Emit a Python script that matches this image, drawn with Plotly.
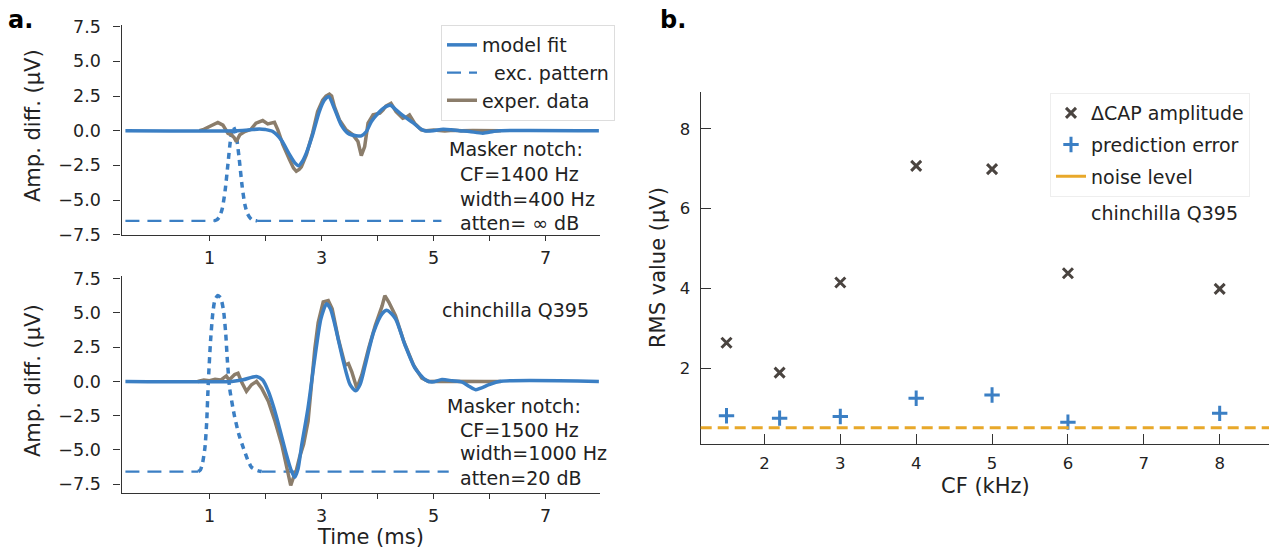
import plotly.graph_objects as go

W, H = 1273, 551

# ---------------- data ----------------
# panel a, top: masker notch CF=1400 Hz
top_fit_t = [-0.5, 1.5, 1.7, 1.89, 2.0, 2.13, 2.28, 2.43, 2.52, 2.59, 2.66, 2.73, 2.84, 2.96, 3.05, 3.13,
             3.23, 3.35, 3.47, 3.62, 3.71, 3.8, 3.89, 4.01, 4.13, 4.23, 4.33, 4.48, 4.63, 4.75, 4.84, 4.99,
             5.17, 5.32, 5.46, 5.64, 5.88, 6.06, 6.18, 7.95]
top_fit_v = [0, 0, 0.05, 0.13, 0.08, -0.06, -0.66, -1.73, -2.3, -2.52, -2.2, -1.6, -0.3, 1.38, 2.2, 2.45,
             1.6, 0.42, -0.18, -0.37, -0.37, -0.06, 0.66, 1.26, 1.69, 1.83, 1.5, 1.01, 0.59, 0.18, 0, 0,
             0.1, 0.06, 0, -0.06, -0.18, -0.06, 0, 0]

top_exp_t = [0.82, 0.9, 1.0, 1.08, 1.15, 1.24, 1.33, 1.39, 1.44, 1.48, 1.54, 1.63, 1.74, 1.83, 1.95, 2.04,
             2.1, 2.16, 2.22, 2.31, 2.43, 2.5, 2.55, 2.6, 2.64, 2.73, 2.84, 2.93, 3.02, 3.08, 3.14, 3.18,
             3.23, 3.32, 3.44, 3.56, 3.65, 3.71, 3.77, 3.83, 3.92, 4.04, 4.1, 4.15, 4.24, 4.33, 4.45, 4.52,
             4.57, 4.66, 4.78, 4.87, 5.0, 5.2, 5.35, 5.5, 5.7, 5.9, 6.1, 6.2]
top_exp_v = [0, 0.1, 0.3, 0.45, 0.6, 0.4, -0.2, -0.3, -0.5, -0.78, -0.3, -0.06, 0.1, 0.54, 0.73, 0.49,
             0.55, 0.6, 0.06, -1.0, -2.1, -2.7, -2.93, -2.8, -2.6, -1.73, -0.18, 1.38, 2.2, 2.5, 2.64, 2.5,
             1.73, 0.78, 0.06, -0.3, -0.78, -1.8, -1.14, 0.54, 1.14, 1.26, 1.5, 1.78, 1.97, 1.38, 0.9, 1.0,
             1.14, 0.54, 0.06, 0, 0.05, -0.03, 0.04, 0, 0.02, 0, 0, 0]

top_exc_t = [-0.5, 1.08, 1.13, 1.18, 1.23, 1.28, 1.33, 1.38, 1.43, 1.48, 1.53, 1.58, 1.63, 1.68, 1.75, 1.85, 5.14]
top_exc_v = [-6.5, -6.5, -6.43, -6.2, -5.59, -4.3, -2.39, -0.53, 0.27, -0.4, -2.0, -3.9, -5.3, -6.0, -6.4, -6.5, -6.5]
top_exc_base = -6.5

# panel a, bottom: masker notch CF=1500 Hz
bot_fit_t = [-0.5, 1.4, 1.6, 1.84, 1.95, 2.05, 2.14, 2.23, 2.37, 2.45, 2.52, 2.58, 2.64, 2.76, 2.88, 2.99,
             3.09, 3.16, 3.24, 3.39, 3.51, 3.61, 3.69, 3.78, 3.93, 4.08, 4.17, 4.32, 4.49, 4.67, 4.85, 4.97,
             5.15, 5.33, 5.51, 5.63, 5.75, 5.99, 6.17, 7.95]
bot_fit_v = [0, 0, 0.12, 0.36, 0.1, -0.72, -1.8, -3.1, -5.3, -6.4, -7.0, -6.4, -4.8, -1.9, 1.7, 4.6,
             5.67, 5.3, 4.1, 1.45, -0.24, -0.68, -0.2, 1.2, 3.6, 4.94, 5.19, 4.58, 2.65, 0.96, 0.12, -0.05,
             0.14, 0.05, -0.05, -0.35, -0.6, -0.24, 0, 0]

bot_exp_t = [0.79, 0.9, 1.0, 1.1, 1.2, 1.3, 1.35, 1.45, 1.51, 1.58, 1.66, 1.75, 1.84, 1.93, 2.05, 2.17,
             2.29, 2.4, 2.45, 2.5, 2.55, 2.61, 2.68, 2.76, 2.88, 2.94, 3.03, 3.12, 3.19, 3.3, 3.42, 3.48,
             3.54, 3.63, 3.72, 3.84, 3.96, 4.08, 4.13, 4.2, 4.32, 4.47, 4.64, 4.79, 4.91, 5.1, 5.3, 5.5,
             5.7, 5.9, 6.2]
bot_exp_v = [0, 0.1, 0.05, 0.15, 0.1, 0.4, 0.1, 0.5, 0.6, -0.1, -0.72, -0.24, 0, -0.5, -1.45, -2.9,
             -4.6, -6.75, -7.6, -7.0, -6.5, -5.5, -4.6, -2.9, 2.4, 4.3, 5.8, 5.9, 5.3, 3.1, 1.2, 1.3,
             0.7, -0.5, 0.5, 2.4, 4.1, 5.5, 6.27, 5.8, 4.8, 2.9, 1.2, 0.24, 0, 0.02, 0, 0.01,
             0, 0, 0]

bot_exc_t = [-0.5, 0.8, 0.84, 0.88, 0.92, 0.95, 0.98, 1.02, 1.06, 1.1, 1.15, 1.2, 1.25, 1.29, 1.32, 1.36,
             1.44, 1.52, 1.6, 1.68, 1.75, 1.85, 1.93, 5.27]
bot_exc_v = [-6.58, -6.58, -6.45, -5.9, -4.8, -3.0, 0.0, 3.0, 5.0, 6.0, 6.27, 6.1, 5.2, 3.5, 1.5, -0.5,
             -2.4, -3.8, -4.8, -5.7, -6.27, -6.5, -6.58, -6.58]
bot_exc_base = -6.58

# panel b
cf_khz = [1.5, 2.2, 3, 4, 5, 6, 8]
cap_amp = [2.64, 1.89, 4.15, 7.07, 6.99, 4.38, 3.99]
pred_err = [0.81, 0.75, 0.79, 1.25, 1.33, 0.65, 0.87]
noise_level = 0.51

# ---------------- styles ----------------
BLUE = "#3b7fc4"
BROWN = "#8b7d6b"
DARK = "#4a4440"
ORANGE = "#e8a82a"
TXT = "#222222"
FONT = "DejaVu Sans"
AX = "#333333"


def px(x):
    return x / W


def py(y):
    return 1 - y / H


def split_exc(t, v, base):
    dash_x, dash_y, dot_x, dot_y = [], [], [], []
    n = len(t)
    up = [vv > base + 0.01 for vv in v]
    for i in range(n):
        near = up[i] or (i > 0 and up[i - 1]) or (i < n - 1 and up[i + 1])
        if near:
            dot_x.append(t[i]); dot_y.append(v[i])
        if not up[i]:
            dash_x.append(t[i]); dash_y.append(v[i])
        elif dash_x and dash_x[-1] is not None:
            dash_x.append(None); dash_y.append(None)
    return dash_x, dash_y, dot_x, dot_y


fig = go.Figure()

for (xa, ya, et, ev, eb, pt, pv, ft, fv, show) in [
    ("x", "y", top_exc_t, top_exc_v, top_exc_base, top_exp_t, top_exp_v, top_fit_t, top_fit_v, True),
    ("x2", "y2", bot_exc_t, bot_exc_v, bot_exc_base, bot_exp_t, bot_exp_v, bot_fit_t, bot_fit_v, False),
]:
    dx, dy, ox, oy = split_exc(et, ev, eb)
    fig.add_trace(go.Scatter(x=dx, y=dy, xaxis=xa, yaxis=ya, mode="lines", name="\u00a0\u00a0exc. pattern",
                             line=dict(color=BLUE, width=2.2, dash="14px,8px"), showlegend=show,
                             legendrank=2, legend="legend", connectgaps=False))
    fig.add_trace(go.Scatter(x=ox, y=oy, xaxis=xa, yaxis=ya, mode="lines", showlegend=False,
                             line=dict(color=BLUE, width=3.5, dash="6px,5px", shape="spline", smoothing=0.6)))
    fig.add_trace(go.Scatter(x=pt, y=pv, xaxis=xa, yaxis=ya, mode="lines", name="exper. data",
                             line=dict(color=BROWN, width=3.5), showlegend=show, legendrank=3, legend="legend"))
    fig.add_trace(go.Scatter(x=ft, y=fv, xaxis=xa, yaxis=ya, mode="lines", name="model fit",
                             line=dict(color=BLUE, width=3.5, shape="spline", smoothing=0.7),
                             showlegend=show, legendrank=1, legend="legend"))

# panel b
fig.add_shape(type="line", xref="x3 domain", yref="y3", x0=0, x1=1, y0=noise_level, y1=noise_level,
              line=dict(color=ORANGE, width=3, dash="11px,6px"), layer="above")
fig.add_trace(go.Scatter(x=cf_khz, y=cap_amp, xaxis="x3", yaxis="y3", mode="markers", name="ΔCAP amplitude",
                         marker=dict(symbol="x-thin", size=10, line=dict(color=DARK, width=3), color=DARK),
                         legend="legend2", legendgroup="a", legendrank=1))
fig.add_trace(go.Scatter(x=cf_khz, y=pred_err, xaxis="x3", yaxis="y3", mode="markers", name="prediction error",
                         marker=dict(symbol="cross-thin", size=11, line=dict(color=BLUE, width=3), color=BLUE),
                         legend="legend2", legendgroup="b", legendrank=2))
fig.add_trace(go.Scatter(x=[None], y=[None], xaxis="x3", yaxis="y3", mode="lines", name="noise level",
                         line=dict(color=ORANGE, width=3), legend="legend2", legendgroup="c", legendrank=3))

tickfont = dict(family=FONT, size=17.5, color=TXT)
tickfont_b = dict(family=FONT, size=16.5, color=TXT)
common = dict(showgrid=False, zeroline=False, automargin=False, showline=True, linecolor=AX,
              linewidth=1.3, tickwidth=1.3, tickcolor=AX)
left_x = dict(range=[-0.57, 7.97], tickvals=[1, 2, 3, 4, 5, 6, 7],
              ticktext=["1", "", "3", "", "5", "", "7"], ticks="outside", ticklen=5,
              tickfont=tickfont, ticklabelstandoff=2, **common)
left_y_vals = [-7.5, -5.0, -2.5, 0.0, 2.5, 5.0, 7.5]
left_y_text = ["\u22127.5", "\u22125.0", "\u22122.5", "0.0", "2.5", "5.0", "7.5"]
left_y = dict(tickvals=left_y_vals, ticktext=left_y_text, ticks="outside", ticklen=7,
              tickfont=tickfont, ticklabelstandoff=9, **common)

fig.update_layout(
    width=W, height=H, margin=dict(l=0, r=0, t=0, b=0, autoexpand=False),
    paper_bgcolor="white", plot_bgcolor="white",
    font=dict(family=FONT, color=TXT),
    xaxis=dict(domain=[px(121.5), px(600)], anchor="y", **left_x),
    yaxis=dict(domain=[py(235), py(25)], anchor="x", range=[-7.52, 7.62], **left_y),
    xaxis2=dict(domain=[px(121.5), px(600)], anchor="y2", **left_x),
    yaxis2=dict(domain=[py(493.3), py(276)], anchor="x2", range=[-8.17, 7.7], **left_y),
    xaxis3=dict(domain=[px(700.7), px(1269)], anchor="y3", range=[1.16, 8.65],
                tickvals=[2, 3, 4, 5, 6, 7, 8], ticks="inside", ticklen=10,
                tickfont=tickfont_b, ticklabelstandoff=4, **common),
    yaxis3=dict(domain=[py(444.3), py(91.7)], anchor="x3", range=[0.095, 8.93],
                tickvals=[2, 4, 6, 8], ticks="inside", ticklen=10,
                tickfont=tickfont_b, ticklabelstandoff=6, **common),
    legend=dict(x=px(441), y=py(25), xanchor="left", yanchor="top", bgcolor="rgba(255,255,255,0.85)",
                bordercolor="#dddddd", borderwidth=1, font=dict(family=FONT, size=19, color=TXT),
                itemwidth=30, traceorder="normal"),
    legend2=dict(x=px(1050), y=py(93), xanchor="left", yanchor="top", bgcolor="rgba(255,255,255,0.85)",
                 bordercolor="#eeeeee", borderwidth=1, font=dict(family=FONT, size=19, color=TXT),
                 itemwidth=30, tracegroupgap=4),
    showlegend=True,
)

ann = []


def add_text(text, x, y, size=19, xanchor="left", angle=0, bold=False):
    ann.append(dict(text=("<b>%s</b>" % text) if bold else text, x=px(x), y=py(y), xref="paper",
                    yref="paper", xanchor=xanchor, yanchor="middle", showarrow=False, textangle=angle,
                    font=dict(family=FONT, size=size, color=TXT if not bold else "#000000")))


add_text("a.", 20, 20, size=24, xanchor="center", bold=True)
add_text("b.", 673, 20, size=24, xanchor="center", bold=True)
add_text("Amp. diff. (μV)", 33, 126, size=21, xanchor="center", angle=-90)
add_text("Amp. diff. (μV)", 33, 381, size=21, xanchor="center", angle=-90)
add_text("Time (ms)", 370, 537, size=21, xanchor="center")
add_text("RMS value (μV)", 658, 268, size=21, xanchor="center", angle=-90)
add_text("CF (kHz)", 985, 486, size=21, xanchor="center")

add_text("Masker notch:", 446.7, 149.5)
add_text("CF=1400 Hz", 457.7, 174)
add_text("width=400 Hz", 457.7, 198.5)
add_text("atten= ∞ dB", 457.7, 223)

add_text("chinchilla Q395", 440, 310)
add_text("Masker notch:", 445, 405.7)
add_text("CF=1500 Hz", 457.7, 430)
add_text("width=1000 Hz", 457.7, 453.3)
add_text("atten=20 dB", 457.7, 478.3)

add_text("chinchilla Q395", 1089, 213)

fig.update_layout(annotations=ann)

fig.write_html("out.html")
